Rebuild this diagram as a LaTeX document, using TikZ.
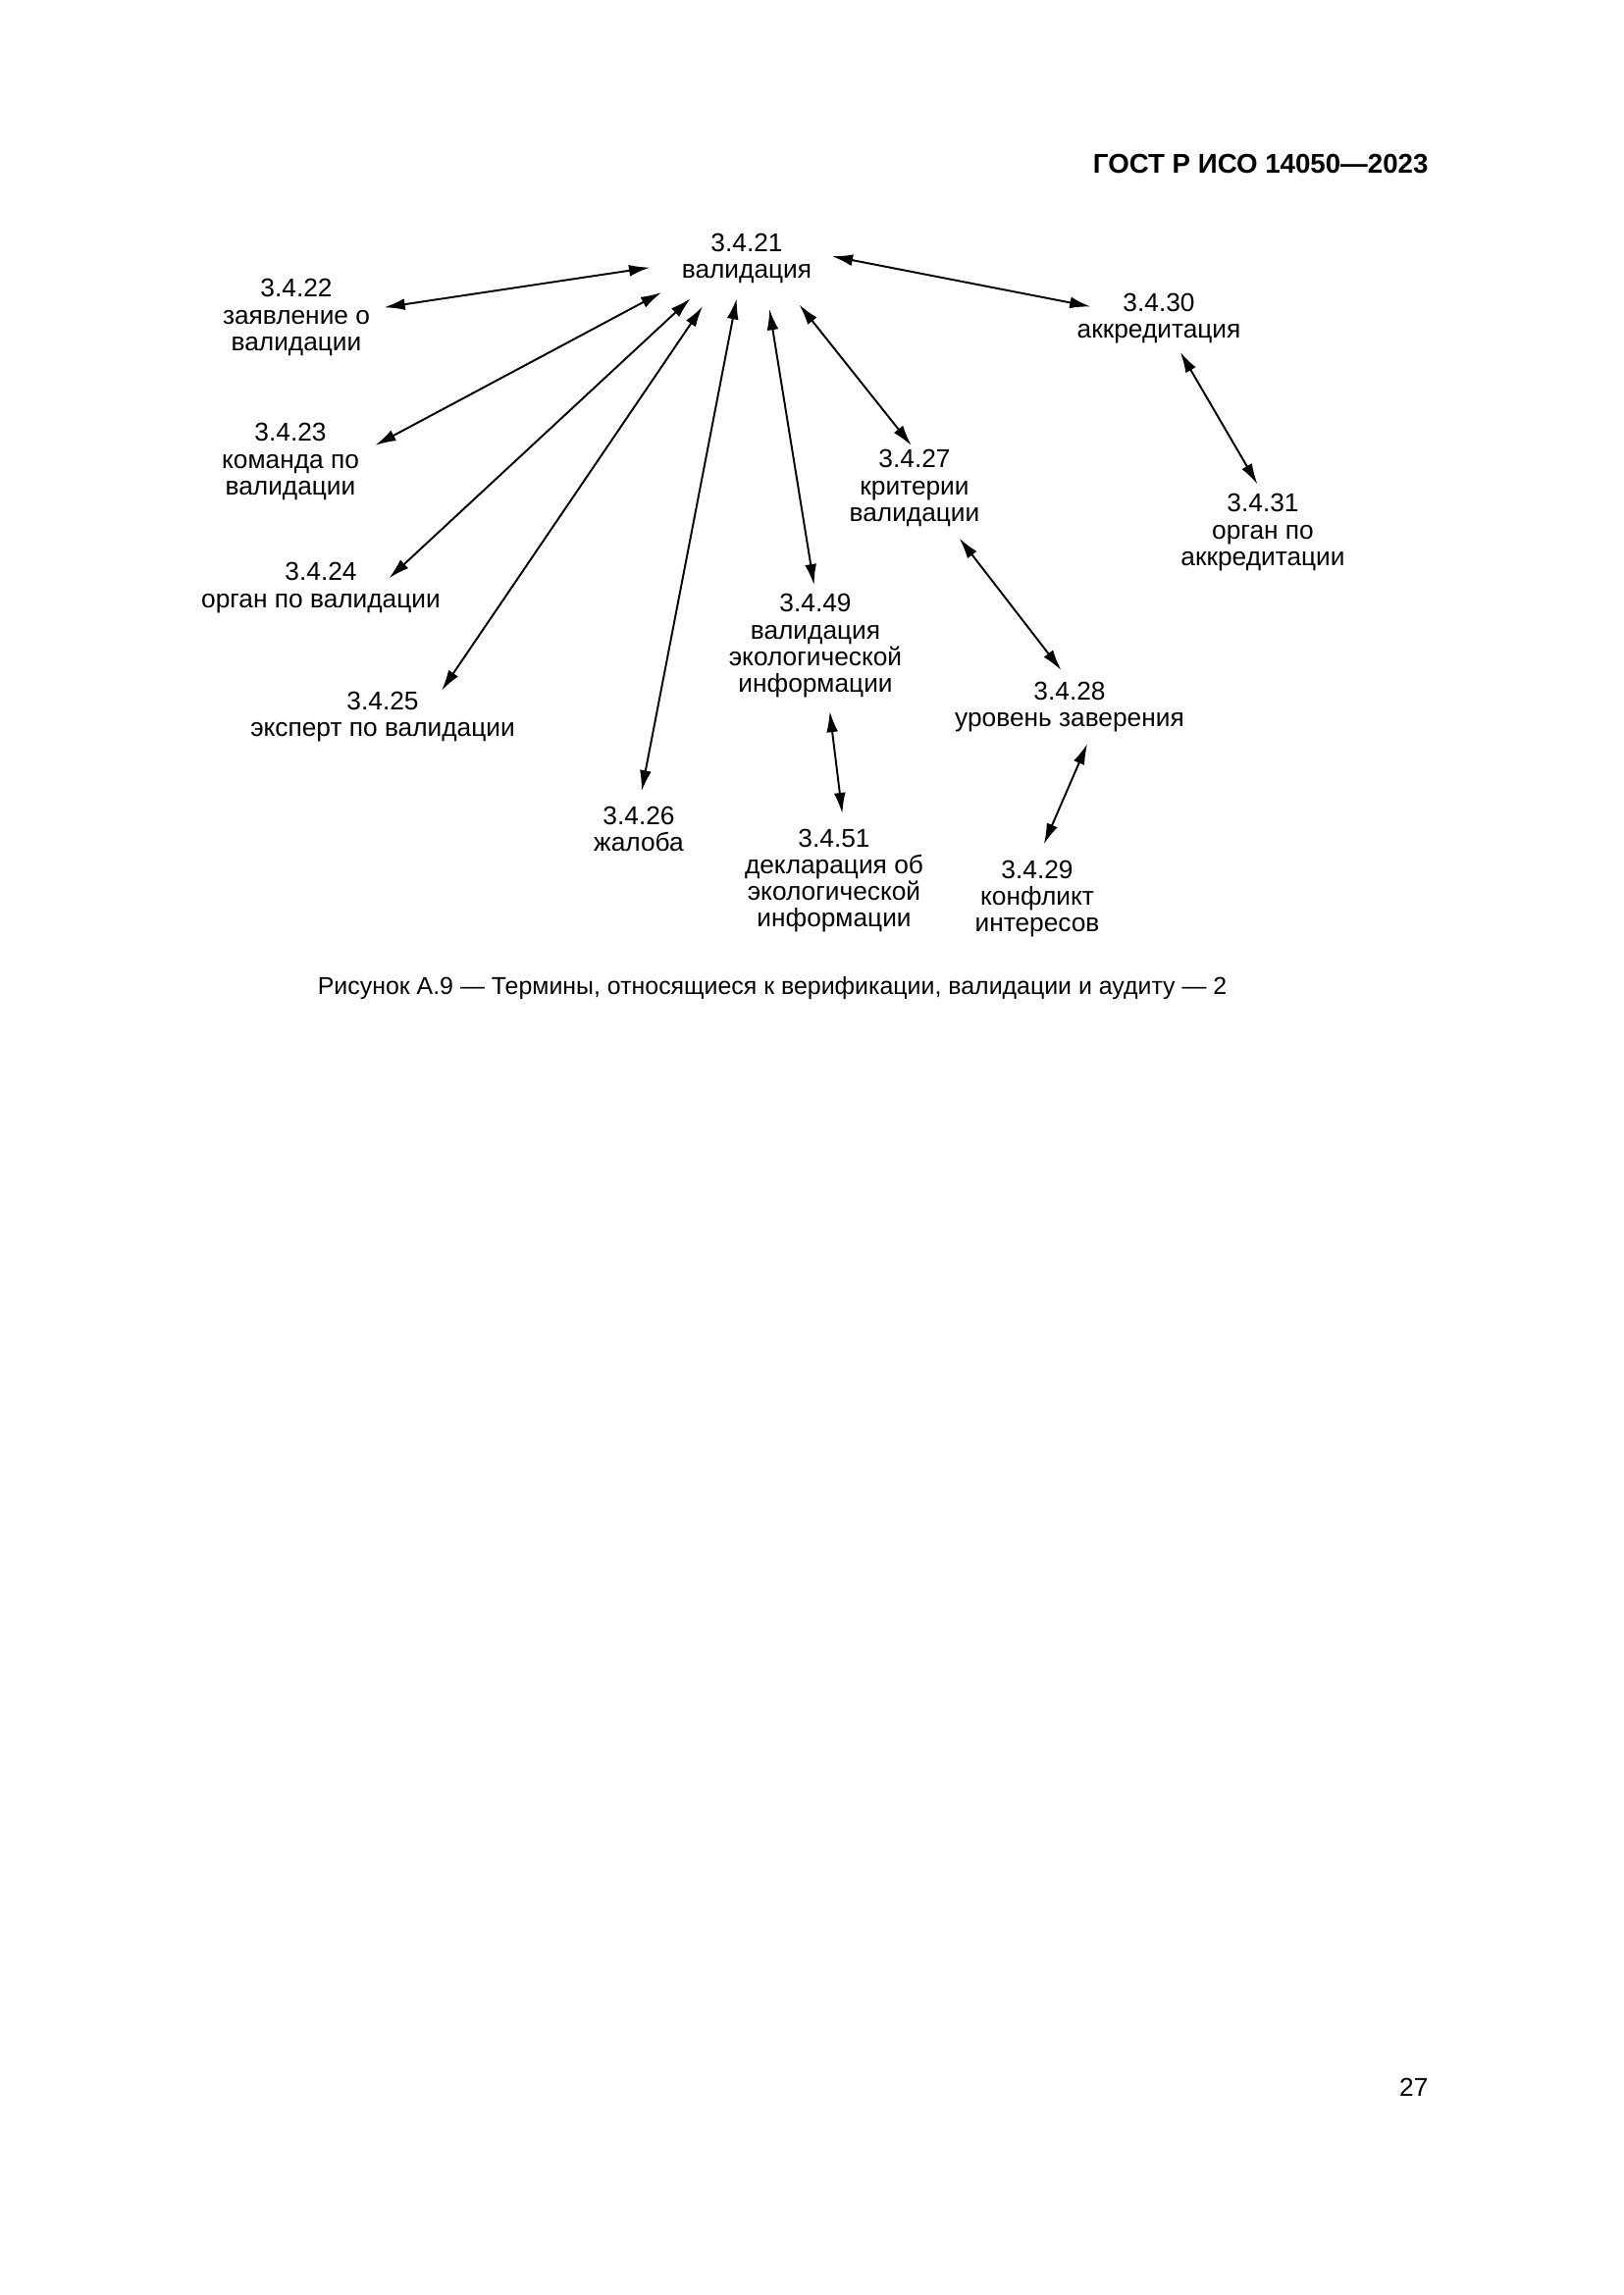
\documentclass[tikz,border=0pt]{standalone}
\usepackage{fontspec}
\setmainfont{Liberation Sans}
\usetikzlibrary{arrows.meta, shapes.geometric}
\tikzset{
  num/.style    = {anchor=base, inner sep=0pt, font=\fontsize{9.5}{9.73}\selectfont},
  desc/.style   = {anchor=base, inner sep=0pt, align=center, yshift=-#1*3.43mm,
                   font=\fontsize{9.5}{9.73}\selectfont},
  desc/.default = 1,
  hub/.style    = {ellipse, minimum width=25.4mm, minimum height=9.14mm},
  darrow/.style = {line width=0.7pt, <->, >={Latex[length=2.7mm, width=1.5mm]}},
}
\begin{document}
\begin{tikzpicture}[x=0.127mm, y=-0.127mm]
    \useasboundingbox (0,0) rectangle (1654,2339);

    %% Page header
    \node[anchor=base east, inner sep=0pt, font=\bfseries\fontsize{10}{12}\selectfont]
          (hdr) at (1456,177) {ГОСТ Р ИСО 14050—2023};

    %% Central term
    \node[num]       (n21) at (761,257) {3.4.21};
    \node[desc, hub] (d21) at (n21.base) {валидация};

    %% Terms — number at absolute position, text below it
    \node[num]    (n22) at (302,303)  {3.4.22};
    \node[desc=2] (d22) at (n22.base) {заявление о\\валидации};
    \node[num]    (n23) at (296,450)  {3.4.23};
    \node[desc=2] (d23) at (n23.base) {команда по\\валидации};
    \node[num]    (n24) at (327,592)  {3.4.24};
    \node[desc]   (d24) at (n24.base) {орган по валидации};
    \node[num]    (n25) at (390,723)  {3.4.25};
    \node[desc]   (d25) at (n25.base) {эксперт по валидации};
    \node[num]    (n26) at (651,840)  {3.4.26};
    \node[desc]   (d26) at (n26.base) {жалоба};
    \node[num]    (n49) at (831,624)  {3.4.49};
    \node[desc=3] (d49) at (n49.base) {валидация\\экологической\\информации};
    \node[num]    (n51) at (850,863)  {3.4.51};
    \node[desc=3] (d51) at (n51.base) {декларация об\\экологической\\информации};
    \node[num]    (n27) at (932,477)  {3.4.27};
    \node[desc=2] (d27) at (n27.base) {критерии\\валидации};
    \node[num]    (n28) at (1090,713) {3.4.28};
    \node[desc]   (d28) at (n28.base) {уровень заверения};
    \node[num]    (n29) at (1057,895) {3.4.29};
    \node[desc=2] (d29) at (n29.base) {конфликт\\интересов};
    \node[num]    (n30) at (1181,318) {3.4.30};
    \node[desc]   (d30) at (n30.base) {аккредитация};
    \node[num]    (n31) at (1287,522) {3.4.31};
    \node[desc=2] (d31) at (n31.base) {орган по\\аккредитации};

    %% Arrows
    \draw[darrow, shorten >=1.78mm] (d21.176) -- (d22.north east);
    \draw[darrow, shorten >=2.29mm] (d21.192) -- (d23.north east);
    \draw[darrow, shorten <=-0.8mm, shorten >=2.79mm] (d21.205) -- (d24.11);
    \draw[darrow, shorten >=4.83mm] (d21.216) -- (d25.15);
    \draw[darrow, shorten <=-1.5mm, shorten >=1.9mm]  (d21.251) -- (n26.north);
    \draw[darrow, shorten >=1.14mm] (d21.-57) -- (n49.north);
    \draw[darrow, shorten >=0.64mm] (d21.-30) -- (n27.north);
    \draw[darrow, shorten >=4.19mm] (d21.12)  -- (n30.south west);
    \draw[darrow, shorten <=1.14mm, shorten >=1.4mm]  (d30.-31) -- (n31.north);
    \draw[darrow, shorten <=1.9mm,  shorten >=1.78mm] (d27.-33) -- (n28.north);
    \draw[darrow, shorten <=1.78mm, shorten >=1.9mm]  (d49.-71) -- (n51.44);
    \draw[darrow, shorten <=1.65mm, shorten >=2.16mm] (d28.-24) -- (n29.north);

    %% Caption and page number
    \node[anchor=base, font=\fontsize{9}{11}\selectfont] (cap) at (787,1013)
          {Рисунок А.9 — Термины, относящиеся к верификации, валидации и аудиту — 2};
    \node[anchor=base east, inner sep=0pt, font=\fontsize{9.5}{11}\selectfont]
          (pg) at (1456,2136) {27};

  \end{tikzpicture}
\end{document}
